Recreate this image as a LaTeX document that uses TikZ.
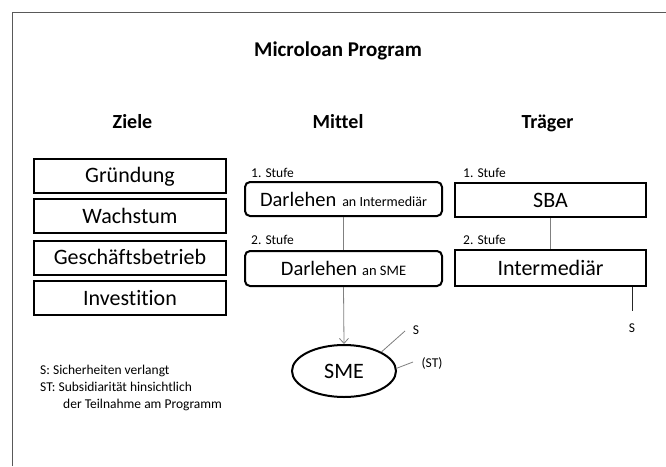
\documentclass[tikz,border=0pt]{standalone}
\usepackage{fontspec}
\setmainfont{Carlito}[Ligatures=NoCommon]
\usetikzlibrary{arrows.meta,shapes.geometric}
\definecolor{framec}{HTML}{595959}
\definecolor{linec}{HTML}{808080}
\begin{document}
\begin{tikzpicture}[x=1pt,y=-1pt,
 bigfont/.style={font=\fontsize{22}{26}\selectfont},
 headfont/.style={font=\fontsize{20}{24}\selectfont\bfseries},
 smallfont/.style={font=\fontsize{13.5}{16}\selectfont},
 goalbox/.style={draw, line width=2pt, minimum width=192pt, minimum height=34pt,
   inner sep=0pt, text height=14pt, text depth=0pt, bigfont},
 roundbox/.style={goalbox, rounded corners=5pt, minimum width=197pt,
   font=\fontsize{20.5}{24}\selectfont},
 smeshape/.style={ellipse, draw, line width=2pt, minimum width=104pt, minimum height=52pt,
   inner sep=0pt, text height=14pt, text depth=0pt, bigfont},
 conn/.style={draw=linec, line width=0.8pt},
 darkconn/.style={draw=black!85, line width=0.9pt},
 lbl/.style={smallfont, inner sep=0pt, anchor=base west}
]
\useasboundingbox (0,0) rectangle (666,466);
\fill[white] (0,0) rectangle (666,466);
% frame
\draw[framec, line width=1pt] (12,466) -- (12,12) -- (666,12);

% title and headings
\node[font=\fontsize{21}{25}\selectfont\bfseries, anchor=base] (title) at (338,56) {Microloan Program};
\node[headfont, anchor=base] (ziele) at (132.5,128) {Ziele};
\node[headfont, anchor=base] (mittel) at (338,128) {Mittel};
\node[headfont, anchor=base] (traeger) at (547.5,128) {Träger};

% goals
\node[goalbox] (g1) at (130,175.5) {Gründung};
\node[goalbox] (g2) at (130,216.3) {Wachstum};
\node[goalbox] (g3) at (130,257.5) {Geschäftsbetrieb};
\node[goalbox] (g4) at (130,298) {Investition};

% means
\node[lbl] (s1) at (251,177) {1. Stufe};
\node[roundbox] (d1) at (343.5,199) {Darlehen\hspace{6pt}{\fontsize{14}{16}\selectfont an Intermediär}};
\node[lbl] (s2) at (251,244) {2. Stufe};
\node[roundbox, minimum height=35pt] (d2) at (343.5,268.5) {Darlehen\hspace{5pt}{\fontsize{14.5}{16}\selectfont an SME}};
\node[smeshape] (sme) at (344,371) {SME};

% carriers
\node[lbl] (s3) at (463,177) {1. Stufe};
\node[goalbox, minimum width=191pt] (sba) at (550.5,200) {SBA};
\node[lbl] (s4) at (463,244) {2. Stufe};
\node[goalbox, minimum width=191pt, minimum height=36pt] (int) at (550.5,268) {Intermediär};

% connectors
\draw[conn] (d1.south) -- (d2.north);
\draw[conn, -{Straight Barb[length=5pt,width=9pt]}] (d2.south) -- (sme.north);
\draw[conn] (sba.south) -- (int.north);

\coordinate (iend) at (632,311);
\draw[darkconn] (iend |- int.south) -- (iend);
\node[smallfont, inner sep=0pt] (sint) at (632,328) {S};

\coordinate (send) at (405,331);
\draw[conn] (sme.27) -- (send);
\node[smallfont, inner sep=0pt] (slab) at (416,330) {S};
\coordinate (stend) at (413,362);
\draw[conn] (sme.3) -- (stend);
\node[smallfont, inner sep=0pt] (stlab) at (432,363) {(ST)};

% legend
\node[lbl] (l1) at (40,374) {S: Sicherheiten verlangt};
\node[lbl] (l2) at (40,391) {ST: Subsidiarität hinsichtlich};
\node[lbl] (l3) at (63,408) {der Teilnahme am Programm};
\end{tikzpicture}
\end{document}
